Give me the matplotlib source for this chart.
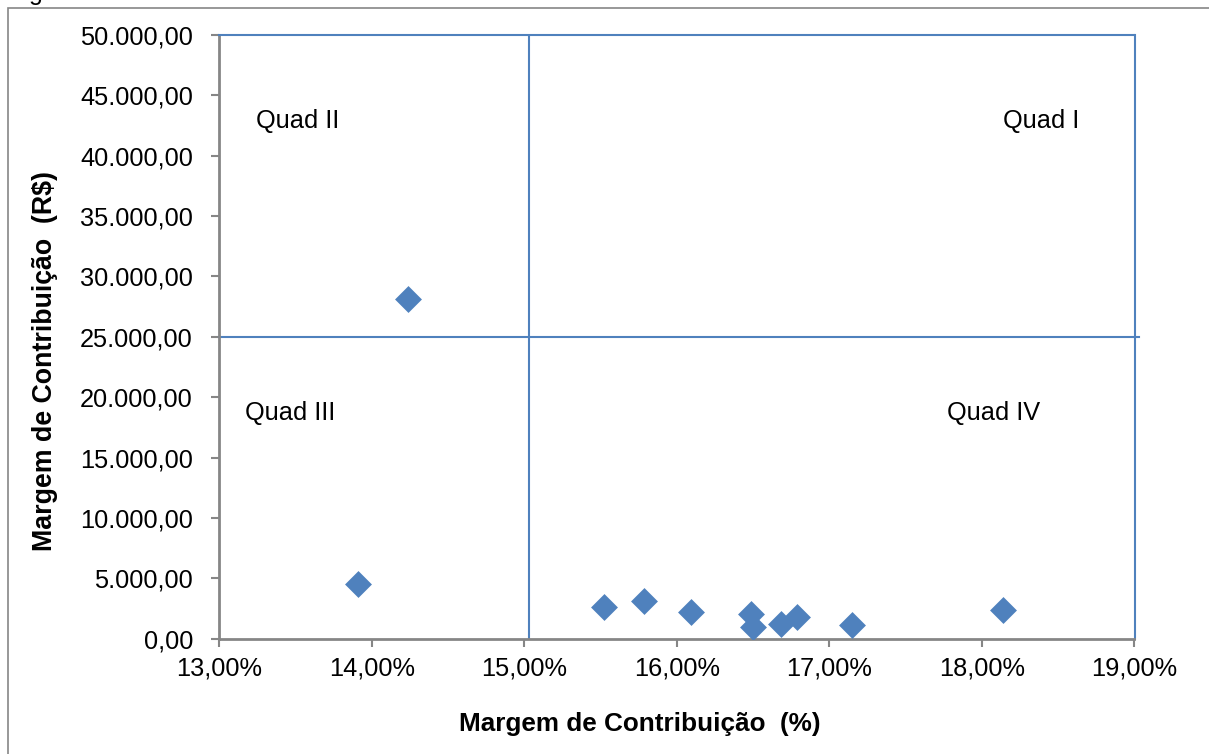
import matplotlib
matplotlib.use('agg')
import matplotlib.pyplot as plt
from matplotlib.ticker import FuncFormatter, MultipleLocator
from matplotlib.patches import Rectangle

plt.rcParams['font.family'] = ['Liberation Sans', 'DejaVu Sans']

# margem de contribuicao (%) x margem de contribuicao (R$)
mc_pct = [14.24, 13.91, 15.52, 15.785, 16.09, 16.485, 16.50, 16.68, 16.785, 17.15, 18.14]
mc_val = [28120, 4530, 2600, 3150, 2190, 2050, 950, 1190, 1770, 1135, 2380]

pct_cut = 15.03
val_cut = 25000

quad_labels = ['Quad I', 'Quad II', 'Quad III', 'Quad IV']
quad_pos = [(18.14, 42900), (13.24, 42900), (13.17, 18700), (17.77, 18700)]

blue = '#4F81BD'
gray = '#868686'


def fmt_brl(v, pos):
    s = '{:,.2f}'.format(v)
    return s.replace(',', 'X').replace('.', ',').replace('X', '.')


def fmt_pct(v, pos):
    return '{:.2f}%'.format(v).replace('.', ',')


fig = plt.figure(figsize=(12.09, 7.54), dpi=100)
ax = fig.add_axes([219.3 / 1209, 1 - 638.7 / 754, (1134.5 - 219.3) / 1209, (638.7 - 35) / 754])

# outer chart-area border (cut off at right and bottom)
fig.patches.append(Rectangle((8 / 1209, -0.1), 1.2, 1 - 8 / 754 + 0.1,
                             transform=fig.transFigure, fill=False,
                             edgecolor=gray, lw=1.2))
fig.text(29 / 1209, 1.0, 'g', va='baseline', fontsize=18)

ax.scatter(mc_pct, mc_val, marker='D', s=13.7 ** 2, color=blue, zorder=3, linewidths=0)

ax.plot([pct_cut, pct_cut], [0, 50000], color=blue, lw=1.5, zorder=2)
ax.plot([13, 19.03], [val_cut, val_cut], color=blue, lw=1.5, zorder=2, clip_on=False)

for lab, (x, y) in zip(quad_labels, quad_pos):
    ax.text(x, y, lab, fontsize=18.3, va='center', ha='left')

ax.set_xlim(13, 19)
ax.set_ylim(0, 50000)
ax.xaxis.set_major_locator(MultipleLocator(1))
ax.yaxis.set_major_locator(MultipleLocator(5000))
ax.xaxis.set_major_formatter(FuncFormatter(fmt_pct))
ax.yaxis.set_major_formatter(FuncFormatter(fmt_brl))
ax.tick_params(direction='out', length=6, width=1.5, color=gray, labelsize=18.3)
ax.tick_params(axis='y', pad=13)
ax.tick_params(axis='x', pad=7)

for side in ['left', 'bottom']:
    ax.spines[side].set_color(gray)
    ax.spines[side].set_linewidth(2)
for side in ['top', 'right']:
    ax.spines[side].set_color(blue)
    ax.spines[side].set_linewidth(1.5)

fig.text(640 / 1209, 1 - 724 / 754, 'Margem de Contribuição  (%)', fontsize=18.8,
         fontweight='bold', ha='center', va='center')
fig.text(45 / 1209, 1 - 361 / 754, 'Margem de Contribuição  (R$)', fontsize=19.3,
         fontweight='bold', ha='center', va='center', rotation=90)

fig.savefig('out.png', dpi=100)
